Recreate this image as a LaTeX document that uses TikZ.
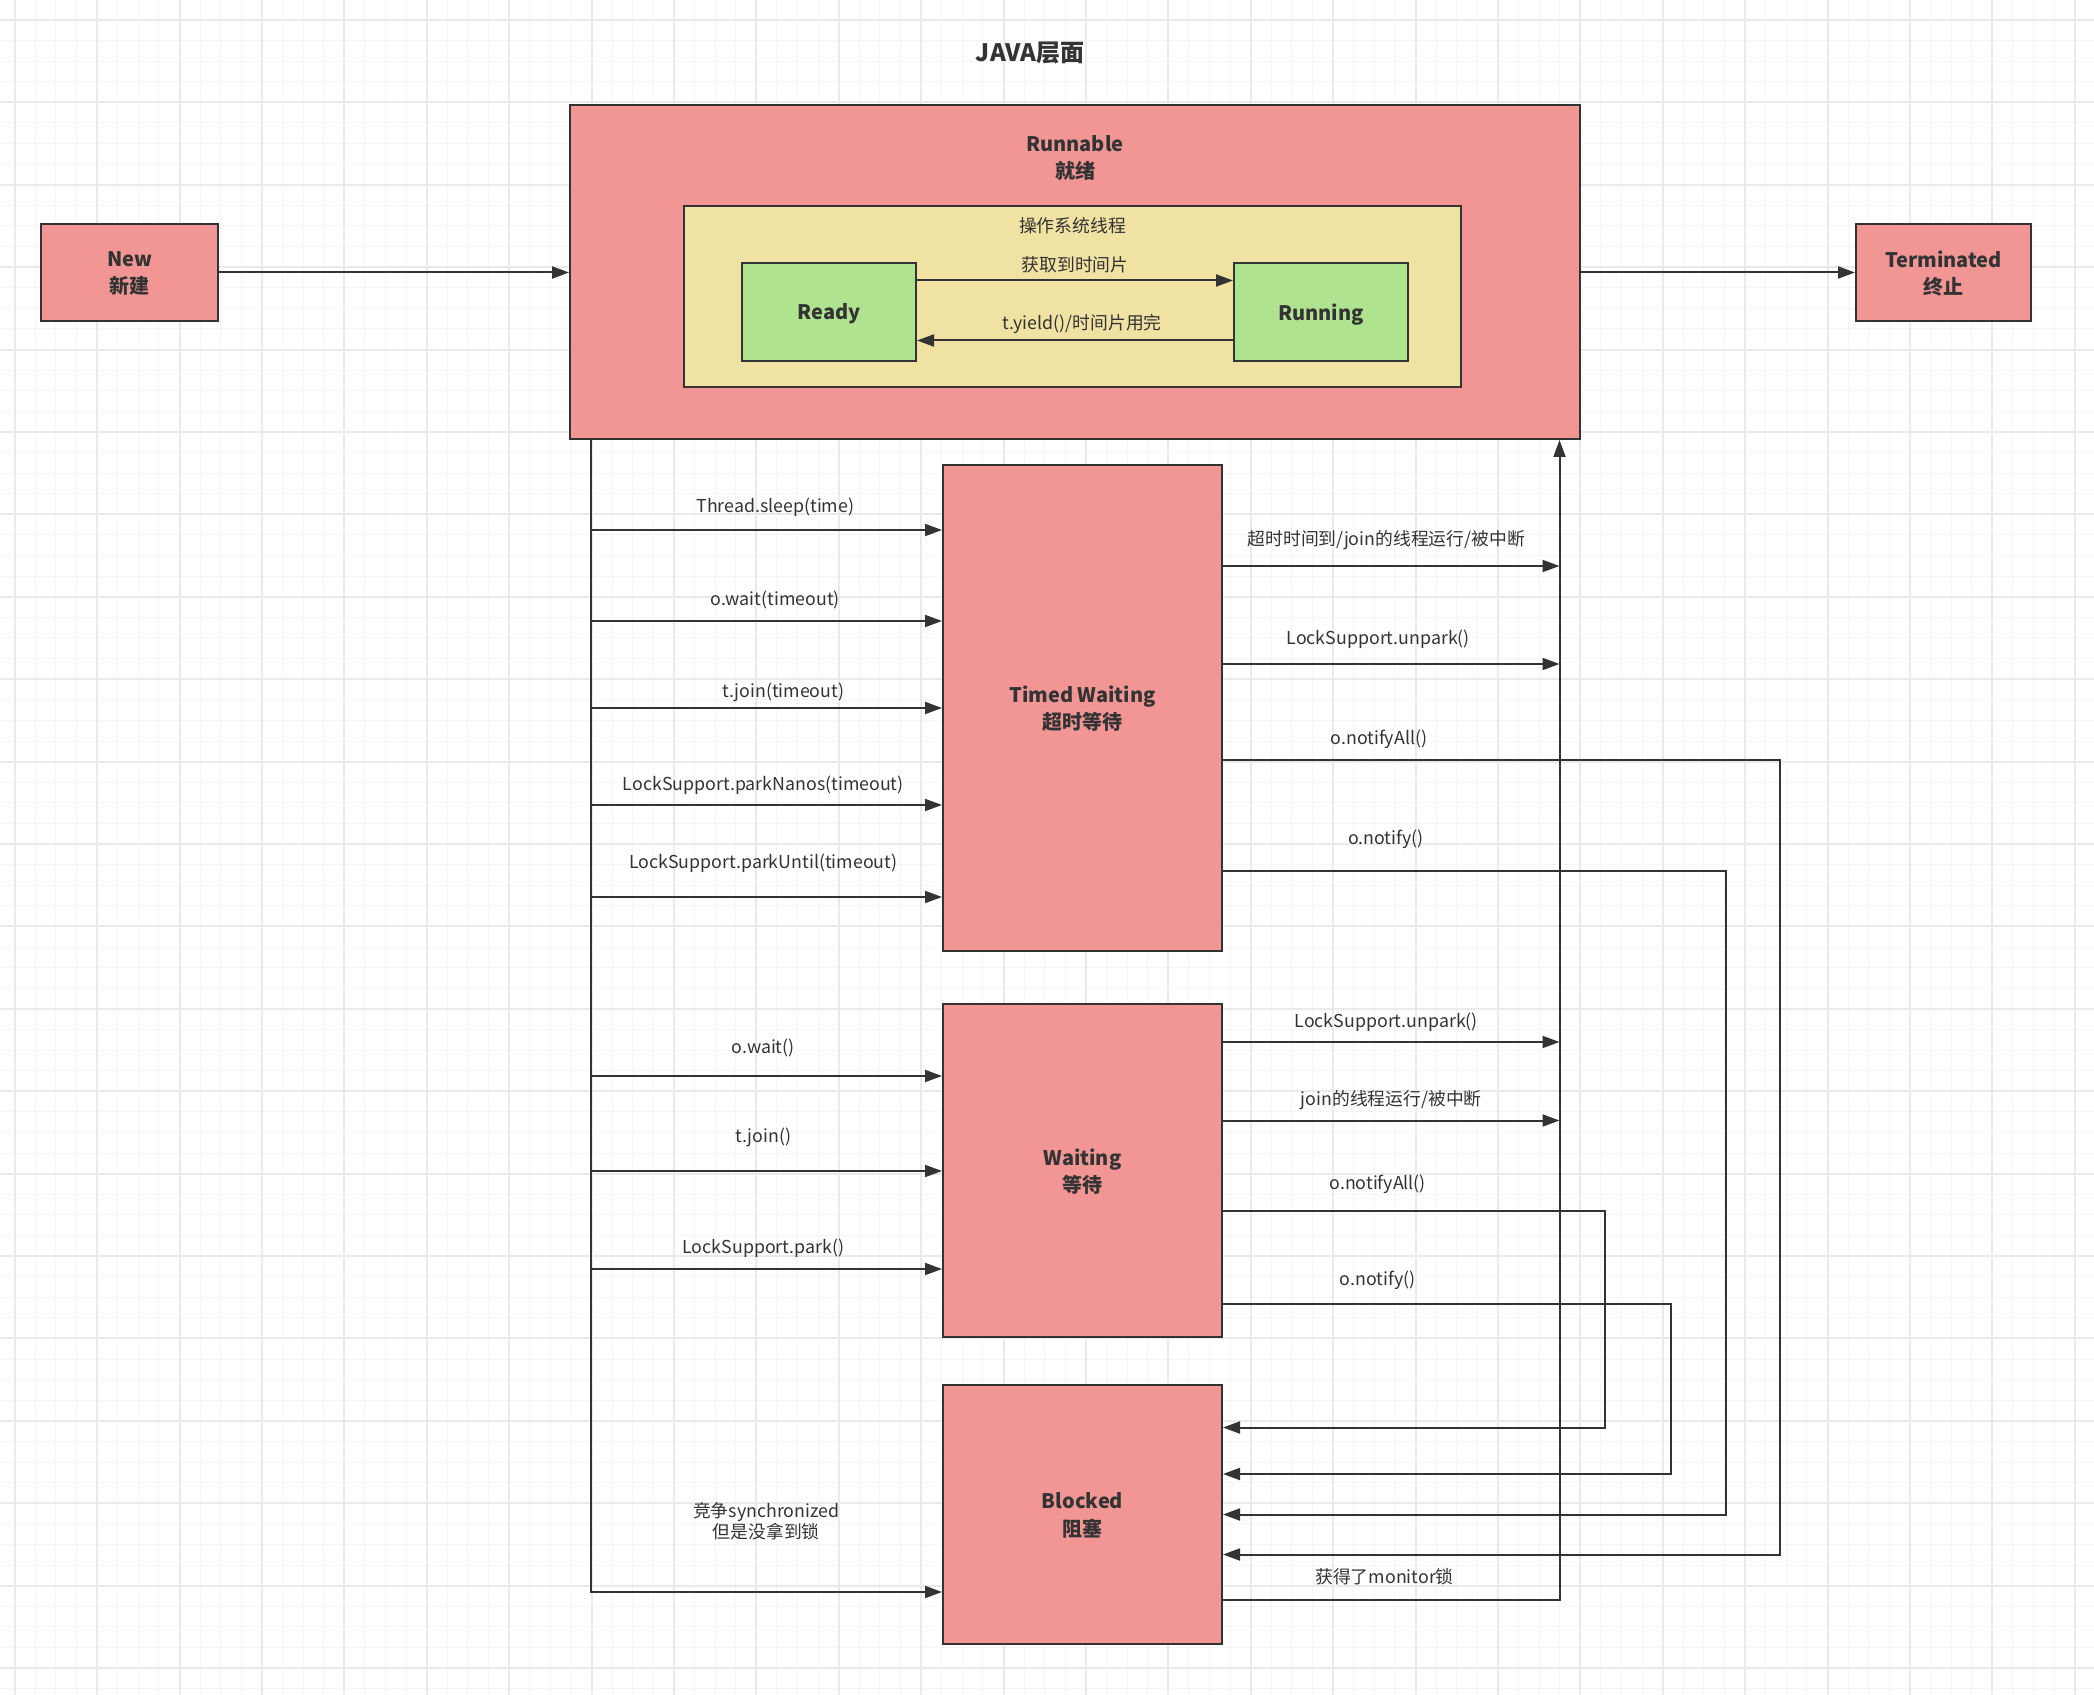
\documentclass[tikz,border=0pt]{standalone}
\usepackage{fontspec}
\setmainfont{Noto Sans CJK SC}
\usetikzlibrary{arrows.meta}

\definecolor{pinkbox}{RGB}{241,149,149}
\definecolor{greenbox}{RGB}{176,227,143}
\definecolor{yellowbox}{RGB}{240,226,163}
\definecolor{inkgray}{RGB}{51,51,51}
\definecolor{gridminor}{RGB}{245,245,245}
\definecolor{gridmajor}{RGB}{234,234,234}

\tikzset{
  boxfont/.style={text=inkgray, font=\bfseries\fontsize{10}{13.5}\selectfont, align=center},
  statebox/.style={rectangle, draw=inkgray, line width=1pt, fill=pinkbox, boxfont, inner sep=0pt, text depth=0pt},
  cpubox/.style={statebox, fill=greenbox, minimum width=87pt, minimum height=48.75pt},
  lbl/.style={text=inkgray, font=\fontsize{8.9}{10.5}\selectfont, align=center, inner sep=0pt, yshift=-1.2pt},
  arr/.style={draw=inkgray, line width=1pt, -{Triangle[length=8.5pt,width=6pt]}}
}

\begin{document}
\begin{tikzpicture}[x=0.5pt, y=-0.5pt]
\fill[white] (0,0) rectangle (2094,1695);
\useasboundingbox (0,0) rectangle (2094,1695);
% background grid
\foreach \i in {0,...,101} \draw[gridminor, line width=0.5pt] ({14.7+20.6*\i},0) -- ++(0,1695);
\foreach \j in {-1,...,82} \draw[gridminor, line width=0.5pt] (0,{20+20.6*\j}) -- ++(2094,0);
\foreach \i in {0,...,25} \draw[gridmajor, line width=1pt] ({14.7+82.4*\i},0) -- ++(0,1695);
\foreach \j in {0,...,20} \draw[gridmajor, line width=1pt] (0,{20+82.4*\j}) -- ++(2094,0);

\node[text=inkgray, font=\bfseries\fontsize{12}{14}\selectfont] (title) at (1030,53) {JAVA层面};

% states
\node[statebox, minimum width=88.5pt, minimum height=48.5pt] (new) at (129.5,272.5) {New\\新建};
\node[statebox, minimum width=87.5pt, minimum height=48.5pt] (term) at (1943.5,272.5) {Terminated\\终止};
\node[statebox, minimum width=505pt, minimum height=166.75pt,
      label={[boxfont, anchor=center, yshift=-26.8pt]north:{Runnable\\就绪}}] (runnable) at (1075,272.25) {};
\node[rectangle, draw=inkgray, line width=1pt, fill=yellowbox, minimum width=388.5pt, minimum height=90.5pt,
      label={[lbl, anchor=center, yshift=-9.4pt]north:操作系统线程}] (os) at (1072.5,296.5) {};
\node[cpubox] (ready) at (829,312) {Ready};
\node[cpubox] (running) at (1321,312) {Running};
\node[statebox, minimum width=139.5pt, minimum height=243pt] (tw) at (1082.5,708) {Timed Waiting\\超时等待};
\node[statebox, minimum width=139.5pt, minimum height=166.5pt] (wait) at (1082.5,1170.5) {Waiting\\等待};
\node[statebox, minimum width=139.5pt, minimum height=129.5pt] (blocked) at (1082.5,1514.5) {Blocked\\阻塞};

\coordinate (lbus) at ([xshift=10.8pt]runnable.south west);
\coordinate (rbus) at ([xshift=-10.75pt]runnable.south east);

\draw[arr] (new.east) -- (new.east -| runnable.west);
\draw[arr] (runnable.east |- term.west) -- (term.west);
\draw[arr] ([yshift=15.75pt]ready.east) -- node[lbl, yshift=9.25pt] {获取到时间片} ([yshift=15.75pt]running.west);
\draw[arr] ([yshift=-14.25pt]running.west) -- node[lbl, yshift=9.25pt, xshift=3.5pt] {t.yield()/时间片用完} ([yshift=-14.25pt]ready.east);

% into timed waiting
\draw[arr] (lbus) |- (tw.west |- 0,530) node[lbl, pos=.75, yshift=12.5pt, xshift=4.5pt] {Thread.sleep(time)};
\draw[arr] (lbus) |- (tw.west |- 0,621) node[lbl, pos=.75, yshift=11.5pt, xshift=4.5pt] {o.wait(timeout)};
\draw[arr] (lbus) |- (tw.west |- 0,708) node[lbl, pos=.75, yshift=9pt, xshift=8.5pt] {t.join(timeout)};
\draw[arr] (lbus) |- (tw.west |- 0,805) node[lbl, pos=.75, yshift=11pt, xshift=-1.5pt] {LockSupport.parkNanos(timeout)};
\draw[arr] (lbus) |- (tw.west |- 0,897) node[lbl, pos=.75, yshift=18pt, xshift=-1.5pt] {LockSupport.parkUntil(timeout)};
% into waiting
\draw[arr] (lbus) |- (wait.west |- 0,1076) node[lbl, pos=.75, yshift=15pt, xshift=-1.5pt] {o.wait()};
\draw[arr] (lbus) |- (wait.west |- 0,1171) node[lbl, pos=.75, yshift=18pt, xshift=-1.5pt] {t.join()};
\draw[arr] (lbus) |- (wait.west |- 0,1269) node[lbl, pos=.75, yshift=11.5pt, xshift=-1.5pt] {LockSupport.park()};
% into blocked
\draw[arr] (lbus) |- (blocked.west |- 0,1592) node[lbl, pos=.75, yshift=36.75pt] {竞争synchronized\\但是没拿到锁};

% back to runnable
\draw[arr] (tw.east |- 0,566) -- (rbus |- 0,566) node[lbl, midway, yshift=14pt, xshift=-2.5pt] {超时时间到/join的线程运行/被中断};
\draw[arr] (tw.east |- 0,664) -- (rbus |- 0,664) node[lbl, midway, yshift=13.5pt, xshift=-6.5pt] {LockSupport.unpark()};
\draw[arr] (wait.east |- 0,1042) -- (rbus |- 0,1042) node[lbl, midway, yshift=11pt, xshift=-2.5pt] {LockSupport.unpark()};
\draw[arr] (wait.east |- 0,1120.5) -- (rbus |- 0,1120.5) node[lbl, midway, yshift=11.25pt] {join的线程运行/被中断};
\draw[arr] (blocked.east |- 0,1600) -- node[lbl, pos=.48, yshift=12.75pt] {获得了monitor锁} (rbus |- 0,1600) -- (rbus);

% notify into blocked
\draw[arr] (tw.east |- 0,760) -- node[lbl, pos=.28, yshift=11.5pt] {o.notifyAll()} (1780,760) |- (blocked.east |- 0,1554.5);
\draw[arr] (tw.east |- 0,871) -- node[lbl, pos=.324, yshift=17pt] {o.notify()} (1725.5,871) |- (blocked.east |- 0,1514.5);
\draw[arr] (wait.east |- 0,1211) -- node[lbl, pos=.405, yshift=14.5pt] {o.notifyAll()} (1605,1211) |- (blocked.east |- 0,1427.5);
\draw[arr] (wait.east |- 0,1303.5) -- node[lbl, pos=.345, yshift=12.75pt] {o.notify()} (1671,1303.5) |- (blocked.east |- 0,1474);
\end{tikzpicture}
\end{document}
